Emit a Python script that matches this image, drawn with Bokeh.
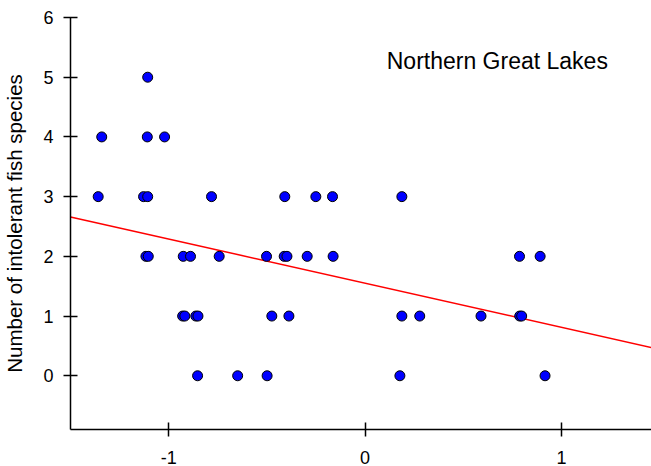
from bokeh.plotting import figure
from bokeh.models import Range1d, Label, FixedTicker, CustomJSTickFormatter
from bokeh.embed import file_html
from bokeh.resources import INLINE

# Data
x_y5 = [-1.107]
x_y4 = [-1.341, -1.109, -1.021]
x_y3 = [-1.359, -1.128, -1.107, -0.782, -0.409, -0.251, -0.166, 0.187]
x_y2 = [-1.116, -1.104, -0.926, -0.889, -0.743, -0.502, -0.412, -0.398, -0.295, -0.163, 0.786, 0.891]
x_y1 = [-0.929, -0.918, -0.862, -0.851, -0.475, -0.388, 0.187, 0.278, 0.590, 0.787, 0.797]
x_y0 = [-0.853, -0.649, -0.499, 0.177, 0.916]

xs = x_y5 + x_y4 + x_y3 + x_y2 + x_y1 + x_y0
ys = ([5] * len(x_y5) + [4] * len(x_y4) + [3] * len(x_y3)
      + [2] * len(x_y2) + [1] * len(x_y1) + [0] * len(x_y0))

fit_intercept = 1.55
fit_slope = -0.74

x_ticks = [-1, 0, 1]
y_ticks = [0, 1, 2, 3, 4, 5, 6]
title_text = "Northern Great Lakes"
y_label = "Number of intolerant fish species"

FONT = "Liberation Sans"

x0, x1 = -1.5, 1.458
p = figure(width=651, height=466, output_backend="svg", toolbar_location=None,
           x_range=Range1d(x0, x1), y_range=Range1d(-0.9, 6.0),
           min_border_left=70, min_border_right=0, min_border_top=17, min_border_bottom=37)
p.outline_line_color = None
p.xgrid.grid_line_color = None
p.ygrid.grid_line_color = None
p.background_fill_color = "white"
p.border_fill_color = "white"

for ax in (p.xaxis, p.yaxis):
    ax.axis_line_color = "black"
    ax.axis_line_width = 1.5
    ax.major_tick_line_color = "black"
    ax.major_tick_line_width = 1.5
    ax.major_tick_in = 7
    ax.major_tick_out = 7
    ax.minor_tick_line_color = None
    ax.major_label_text_font = FONT
    ax.major_label_text_font_size = "18px"
    ax.major_label_text_color = "black"
    ax.major_label_standoff = 10
    ax.formatter = CustomJSTickFormatter(code="return tick.toString();")

p.xaxis.ticker = FixedTicker(ticks=x_ticks)
p.yaxis.ticker = FixedTicker(ticks=y_ticks)
p.xaxis.major_label_standoff = 14
p.yaxis.axis_label = y_label
p.yaxis.axis_label_text_font = FONT
p.yaxis.axis_label_text_font_size = "20.5px"
p.yaxis.axis_label_text_font_style = "normal"
p.yaxis.axis_label_text_color = "black"
p.yaxis.axis_label_standoff = 14

# regression line across the x range
lx = [x0, 1.5]
ly = [fit_intercept + fit_slope * v for v in lx]
p.line(lx, ly, line_color="red", line_width=1.5)

p.scatter(xs, ys, size=10, fill_color="#0000ff", line_color="black", line_width=1)

p.add_layout(Label(x=0.11, y=5.27, text=title_text, text_font=FONT,
                   text_font_size="23px", text_color="black",
                   text_baseline="alphabetic", text_align="left"))

open("out.html", "w").write(file_html(p, INLINE))
